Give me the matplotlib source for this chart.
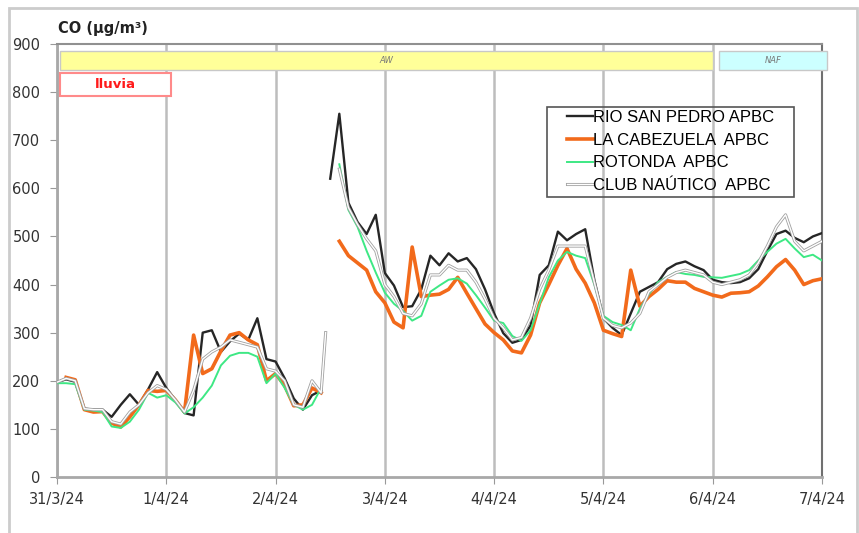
import numpy as np
import matplotlib
matplotlib.use("Agg")
import matplotlib.pyplot as plt
from matplotlib.patches import Rectangle
import matplotlib.patheffects as pe

nan = np.nan

# time axis (hours since 31/3/24 00:00)
hours = list(range(0, 59, 2)) + [59] + list(range(60, 169, 2))

day_labels = ["31/3/24", "1/4/24", "2/4/24", "3/4/24", "4/4/24", "5/4/24", "6/4/24", "7/4/24"]

rio_san_pedro = [197, 203, 198, 142, 140, 140, 125, 150, 172, 150, 182, 218, 185, 160, 133,
                 128, 300, 305, 260, 282, 298, 285, 330, 245, 240, 205, 163, 140, 170, 180,
                 nan,
                 620, 755, 570, 530, 505, 545, 424, 398, 353, 355, 390, 460, 440, 465, 448,
                 455, 432, 390, 340, 299, 279, 285, 315, 420, 440, 510, 492, 505, 515, 410,
                 330, 310, 295, 340, 385, 395, 405, 432, 443, 448, 438, 430, 410, 405, 403,
                 405, 413, 432, 470, 505, 512, 497, 488, 500, 507]

la_cabezuela = [nan, 207, 202, 140, 135, 136, 112, 104, 125, 150, 180, 178, 180, 160, 135,
                295, 215, 225, 262, 295, 300, 285, 275, 200, 215, 190, 148, 150, 185, 175,
                nan,
                nan, 490, 460, 445, 430, 385, 362, 322, 310, 478, 375, 378, 380, 390, 415,
                382, 350, 318, 300, 285, 262, 258, 295, 362, 400, 440, 475, 432, 403, 362,
                305, 298, 292, 430, 355, 375, 390, 408, 405, 405, 392, 385, 378, 374, 382,
                383, 385, 397, 416, 437, 452, 430, 400, 408, 412]

rotonda = [195, 195, 193, 140, 138, 135, 105, 102, 115, 140, 175, 165, 170, 155, 132,
           145, 165, 190, 232, 252, 258, 258, 250, 195, 215, 185, 150, 140, 150, 185,
           nan,
           nan, 650, 555, 520, 470, 425, 383, 360, 345, 325, 335, 385, 398, 410, 413,
           402, 378, 352, 325, 320, 293, 283, 305, 360, 415, 450, 468, 460, 455, 400,
           335, 322, 316, 305, 350, 380, 405, 416, 426, 422, 420, 416, 415, 414, 418,
           422, 430, 450, 468, 485, 495, 475, 457, 462, 450]

club_nautico = [197, 205, 200, 142, 140, 140, 115, 110, 135, 150, 175, 190, 182, 160, 135,
                180, 245, 260, 270, 285, 280, 275, 270, 225, 220, 200, 150, 145, 200, 175,
                300,
                nan, 640, 560, 525, 495, 470, 400, 375, 340, 335, 360, 420, 420, 440, 430,
                430, 405, 370, 330, 310, 285, 290, 330, 390, 430, 480, 480, 480, 480, 405,
                330, 315, 310, 320, 340, 385, 400, 415, 425, 430, 425, 420, 405, 400, 405,
                410, 420, 445, 480, 520, 545, 490, 470, 480, 490]

series_names = ["RIO SAN PEDRO APBC", "LA CABEZUELA  APBC", "ROTONDA  APBC", "CLUB NAÚTICO  APBC"]

# air-mass periods (hours) and rain period
periods = [("AW", 0.7, 144.0, "#ffff99"), ("NAF", 145.4, 169.1, "#ccffff")]
rain = ("lluvia", 0.7, 25.0)

fig = plt.figure(figsize=(8.59, 5.33), dpi=100)
fig.patches.append(Rectangle((0.0105, -0.05), 0.987, 1.035, transform=fig.transFigure,
                             fill=False, edgecolor="#cccccc", lw=2))
ax = fig.add_axes([57/859, 1-477/533, 765/859, 433/533])

ax.set_xlim(0, 168)
ax.set_ylim(0, 900)
ax.set_xticks(range(0, 169, 24))
ax.set_xticklabels(day_labels)
ax.set_yticks(range(0, 901, 100))
ax.grid(axis="x", color="#bdbdbd", lw=1.8)
ax.set_axisbelow(True)
ax.tick_params(axis="y", direction="out", length=5, pad=7, color="#999999",
               labelsize=10.5, labelcolor="#333333")
ax.tick_params(axis="x", direction="out", length=5, pad=6, color="#999999",
               labelsize=10.5, labelcolor="#333333")
for s in ["left", "bottom"]:
    ax.spines[s].set_color("#a8a8a8")
    ax.spines[s].set_linewidth(2)
ax.spines["top"].set_color("#909090")
ax.spines["top"].set_linewidth(1.5)
ax.spines["right"].set_color("#707070")
ax.spines["right"].set_linewidth(1.5)

ax.plot(hours, rio_san_pedro, color="#262626", lw=1.7, label=series_names[0], zorder=3)
ax.plot(hours, la_cabezuela, color="#f26a1b", lw=2.6, label=series_names[1], zorder=3)
ax.plot(hours, rotonda, color="#3ee884", lw=1.4, label=series_names[2], zorder=3)
ax.plot(hours, club_nautico, color="white", lw=1.0, label=series_names[3], zorder=3,
        path_effects=[pe.withStroke(linewidth=2.2, foreground="#a0a0a0")])

for name, x0, x1, col in periods:
    ax.add_patch(Rectangle((x0, 845), x1 - x0, 41, facecolor=col, edgecolor="#c8c8c8",
                           lw=1, clip_on=False, zorder=4))
    ax.text((x0 + x1) / 2, 865, name, ha="center", va="center", fontsize=6,
            style="italic", color="#777777", zorder=5, clip_on=False)

rname, r0, r1 = rain
ax.add_patch(Rectangle((r0, 792), r1 - r0, 48, facecolor="white", edgecolor="#ff8a8a",
                       lw=1.5, zorder=4))
ax.text((r0 + r1) / 2, 816, rname, ha="center", va="center", fontsize=9.5,
        fontweight="bold", color="#ff1a1a", zorder=5)

fig.text(58/859, 1 - 29/533, "CO (µg/m³)", ha="left", va="center", fontsize=10.5,
         fontweight="bold", color="#222222")

# legend frame (transparent box) and entries
ax.add_patch(Rectangle((0.6405, 0.6467), 0.9634 - 0.6405, 0.8545 - 0.6467,
                       transform=ax.transAxes, fill=False, edgecolor="#555555",
                       lw=1.2, zorder=6))
leg = ax.legend(loc="upper left", bbox_to_anchor=(0.6667, 0.8475), borderaxespad=0,
                frameon=False,
                prop={"family": "Liberation Sans", "size": 12},
                handlelength=1.55, handletextpad=0.0, labelspacing=0.46,
                borderpad=0.0)
leg.set_zorder(6)

fig.savefig("out.png", dpi=100)
